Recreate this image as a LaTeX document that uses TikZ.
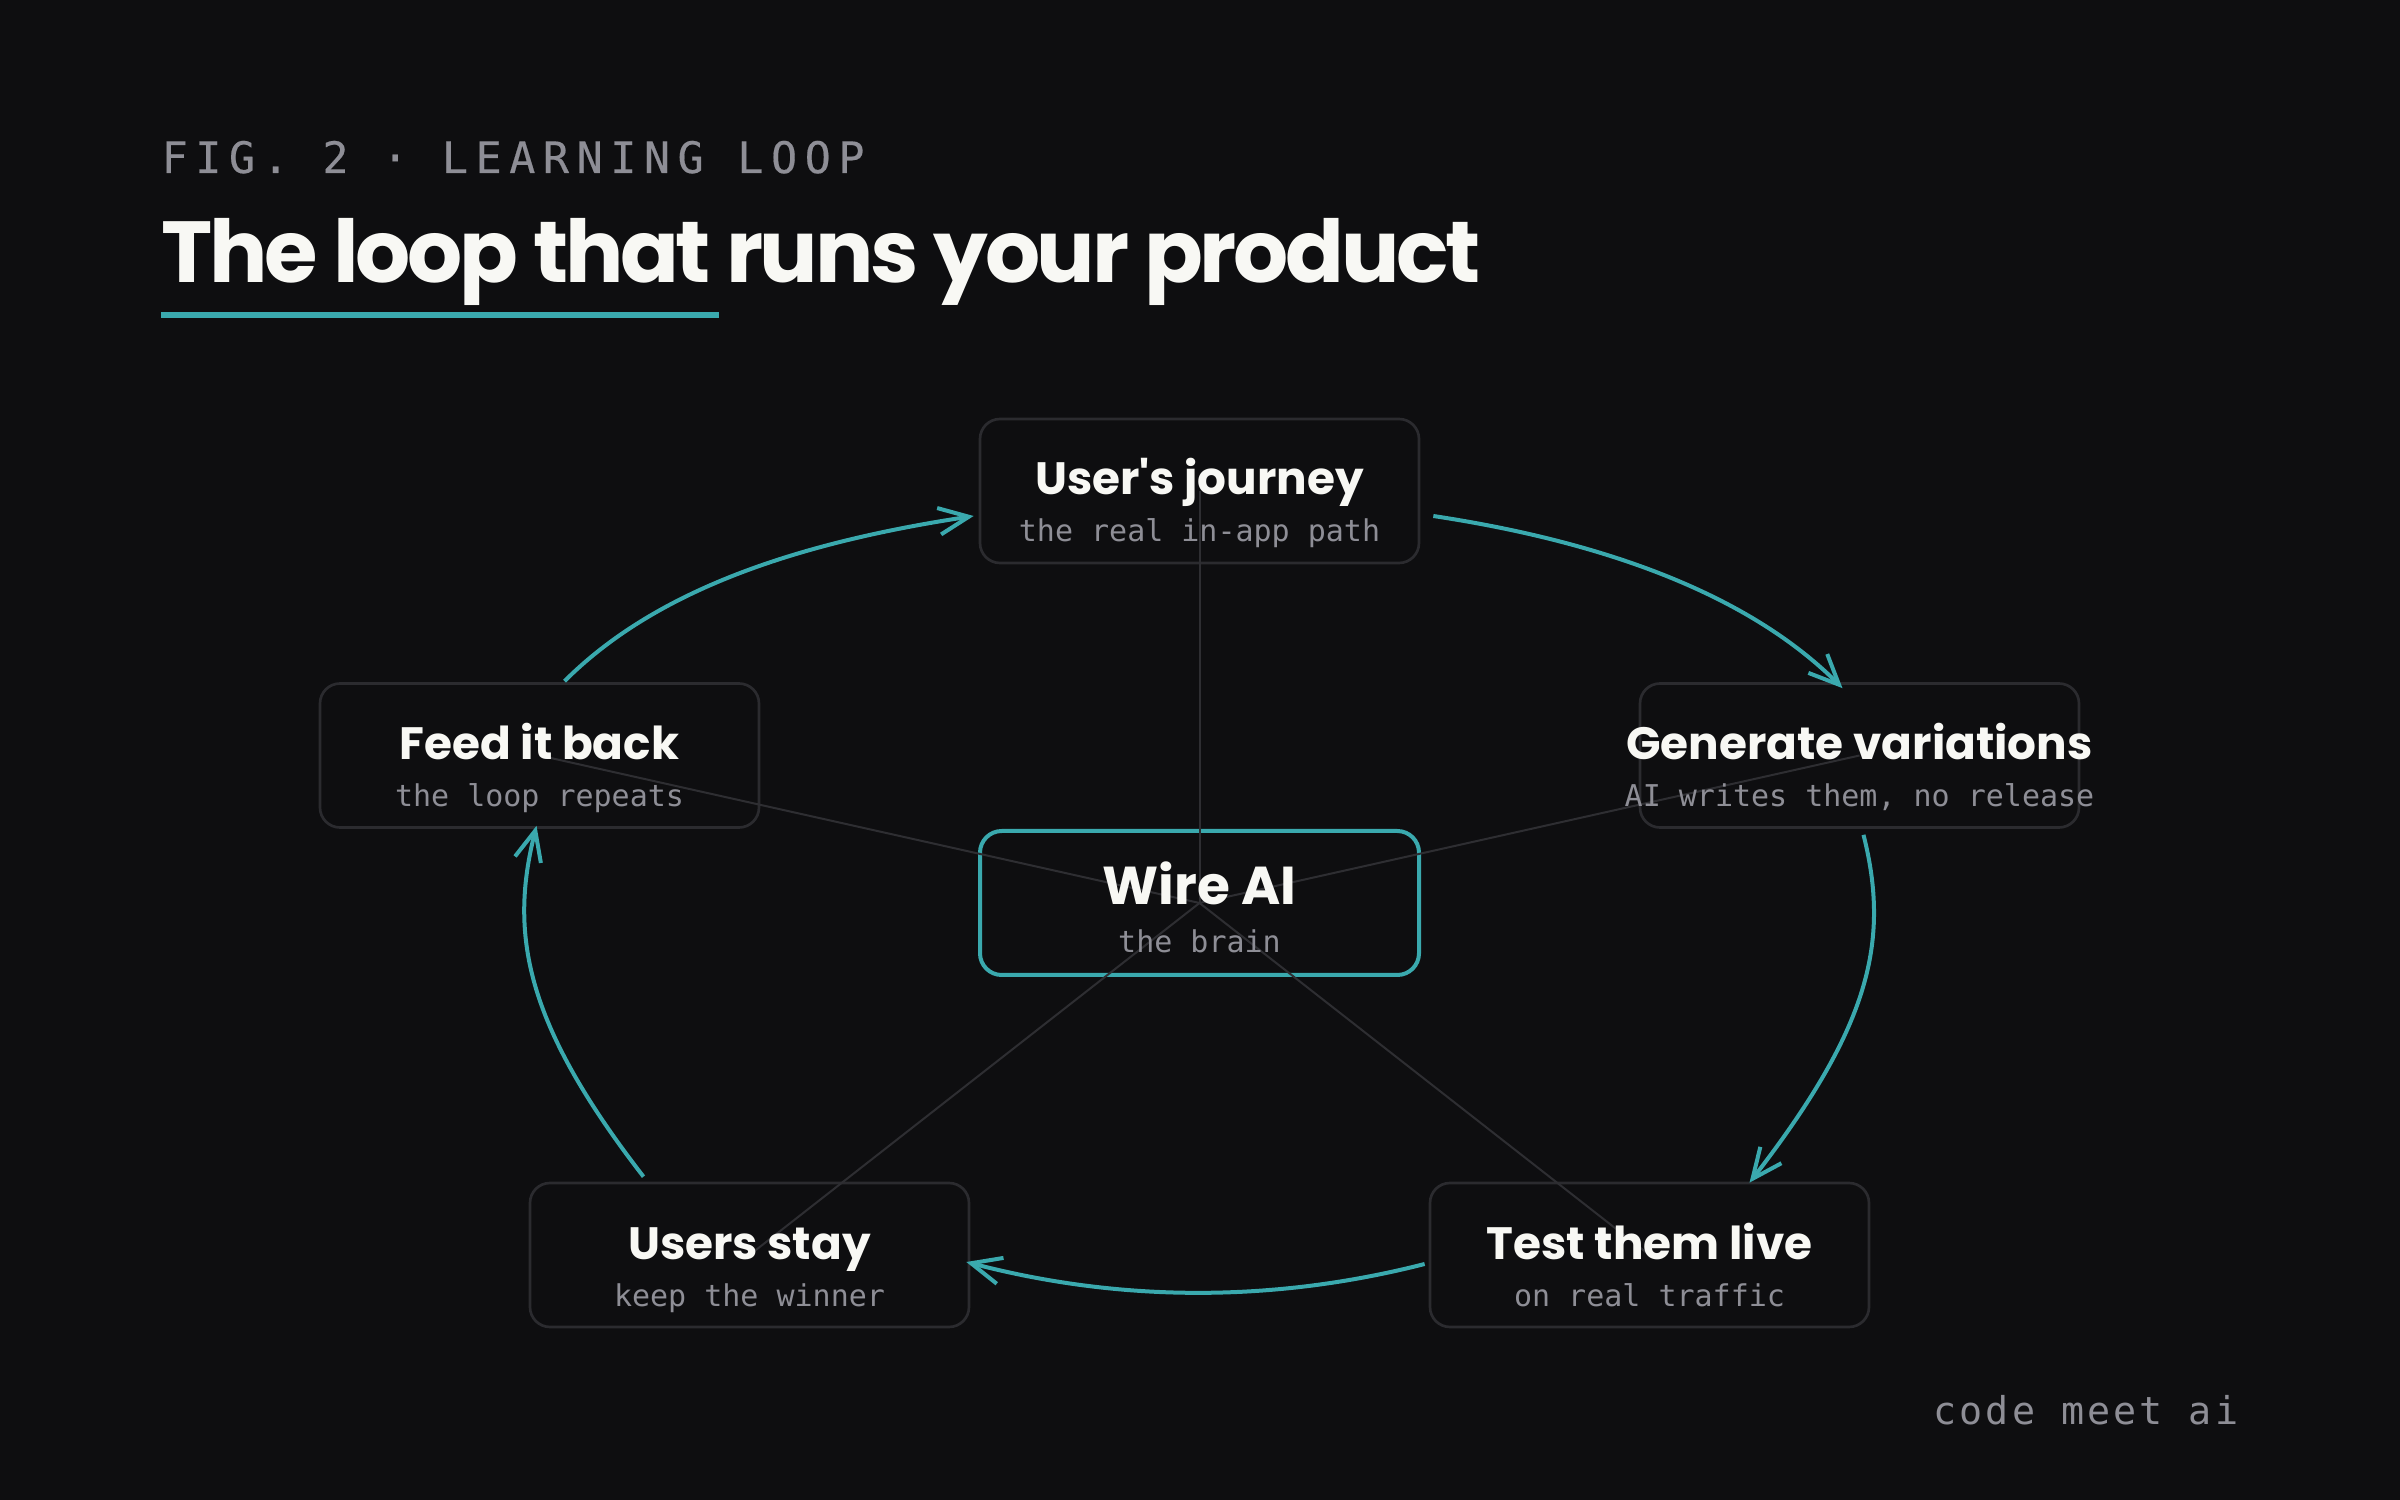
\documentclass[tikz,border=0pt]{standalone}
\usepackage{fontspec}
\usetikzlibrary{arrows.meta,calc}
\setmainfont{Poppins}
\newfontfamily\headf{Poppins}[LetterSpace=-3.8]
\newfontfamily\monof{DejaVu Sans Mono}
\newfontfamily\figf{DejaVu Sans Mono}[LetterSpace=17.5,FakeBold=0.4]
\newfontfamily\brandf{DejaVu Sans Mono}[LetterSpace=8]
\definecolor{bg}{HTML}{0E0E10}
\definecolor{boxc}{HTML}{2B2B2F}
\definecolor{spokec}{HTML}{2E2E32}
\definecolor{tealc}{HTML}{3AA9AE}
\definecolor{fgc}{HTML}{F8F8F4}
\definecolor{mutedc}{HTML}{8E8E96}
\begin{document}
\begin{tikzpicture}[x=0.3pt,y=-0.3pt,
  box/.style={draw=boxc,line width=0.8pt,rounded corners=6pt,minimum width=131.7pt,minimum height=43.2pt,inner sep=0pt},
  hubbox/.style={draw=tealc,line width=1.2pt,rounded corners=6.5pt,minimum width=131.7pt,minimum height=43.2pt,inner sep=0pt},
  ttl/.style={anchor=base,inner sep=0pt,text=fgc,font=\bfseries\fontsize{13.6}{15}\selectfont},
  hubttl/.style={anchor=base,inner sep=0pt,text=fgc,font=\bfseries\fontsize{16}{18}\selectfont},
  sub/.style={anchor=base,inner sep=0pt,text=mutedc,font=\monof\fontsize{9}{11}\selectfont},
  spoke/.style={draw=spokec,line width=0.6pt},
  flow/.style={draw=tealc,line width=1.2pt,-{Straight Barb[length=9pt,width=8pt,line width=1.2pt]}}
]
\fill[bg] (0,0) rectangle (2400,1500);
\useasboundingbox (0,0) rectangle (2400,1500);

% header
\node[anchor=base west,inner sep=0pt,text=mutedc,font=\figf\fontsize{13}{15}\selectfont] (fig) at (161,173) {FIG. 2 · LEARNING LOOP};
\node[anchor=base west,inner sep=0pt,text=fgc,font=\headf\bfseries\fontsize{26}{30}\selectfont] (head) at (161,283) {The loop that runs your product};
\fill[tealc] (161,312) rectangle (719,318);

% boxes
\node[box] (uj) at (1199.5,491) {};
\node[box] (fb) at (539.5,755.5) {};
\node[box] (gv) at (1859.5,755.5) {};
\node[hubbox] (wa) at (1199.5,903) {};
\node[box] (us) at (749.5,1255) {};
\node[box] (tl) at (1649.5,1255) {};

% spokes
\foreach \n in {uj,fb,gv,us,tl} \draw[spoke] (wa.center) -- (\n.center);

% texts
\node[ttl] (ujt) at ($(uj.center)+(0,4)$) {User\textquotesingle s journey};
\node[sub] (ujs) at ($(uj.center)+(0,51)$) {the real in-app path};
\node[ttl] (fbt) at ($(fb.center)+(0,4)$) {Feed it back};
\node[sub] (fbs) at ($(fb.center)+(0,51)$) {the loop repeats};
\node[ttl] (gvt) at ($(gv.center)+(0,4)$) {Generate variations};
\node[sub] (gvs) at ($(gv.center)+(0,51)$) {AI writes them, no release};
\node[hubttl] (wat) at ($(wa.center)+(0,2)$) {Wire AI};
\node[sub] (was) at ($(wa.center)+(0,49)$) {the brain};
\node[ttl] (ust) at ($(us.center)+(0,4)$) {Users stay};
\node[sub] (uss) at ($(us.center)+(0,51)$) {keep the winner};
\node[ttl] (tlt) at ($(tl.center)+(0,4)$) {Test them live};
\node[sub] (tls) at ($(tl.center)+(0,51)$) {on real traffic};

% loop
\draw[flow] ($(uj.east)+(13,25)$) .. controls +(185,28) and +(-88,-88) .. ($(gv.north)+(-17,6)$);
\draw[flow] ($(gv.south)+(4,6)$) .. controls +(27,107) and +(120,-155) .. ($(tl.north)+(100,1)$);
\draw[flow] ($(tl.west)+(-4,9)$) .. controls +(-153,39) and +(153,40) .. ($(us.east)+(-4,7)$);
\draw[flow] ($(us.north)+(-106,-5)$) .. controls +(-120,-155) and +(-27,107) .. ($(fb.south)+(-3,-3)$);
\draw[flow] ($(fb.north)+(25,-1)$) .. controls +(88,-88) and +(-185,28) .. ($(uj.west)+(-5,25)$);

% brand
\node[anchor=base west,inner sep=0pt,text=mutedc,font=\brandf\fontsize{11.5}{13}\selectfont] (brand) at (1933,1424) {code meet ai};
\end{tikzpicture}
\end{document}
